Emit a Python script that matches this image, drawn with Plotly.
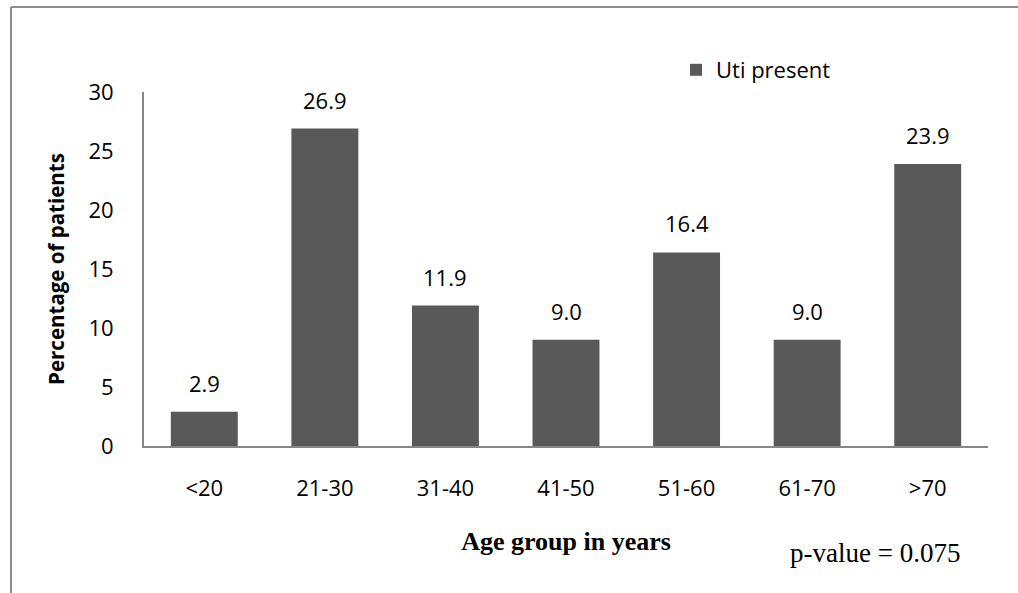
import plotly.graph_objects as go

# Age groups and share of patients with UTI present (%)
age_groups = ["<20", "21-30", "31-40", "41-50", "51-60", "61-70", ">70"]
uti_present = [2.9, 26.9, 11.9, 9.0, 16.4, 9.0, 23.9]
y_ticks = [0, 5, 10, 15, 20, 25, 30]

W, H = 1018, 593
L, R, T, B = 144, 30, 92, 147
pw, ph = W - L - R, H - T - B


def px_x(px):
    return (px - L) / pw


def px_y(py):
    return (H - B - py) / ph


sans = "Open Sans, Noto Sans, sans-serif"
serif = "Liberation Serif, Times New Roman, serif"
bar_color = "#595959"
axis_color = "#868686"

fig = go.Figure()
fig.add_trace(go.Bar(
    x=age_groups,
    y=uti_present,
    name="Uti present",
    marker=dict(color=bar_color, line=dict(width=0)),
    showlegend=True,
))

# value labels above each bar
for g, v in zip(age_groups, uti_present):
    fig.add_annotation(
        x=g, y=v, text=f"{v:.1f}", showarrow=False,
        xref="x", yref="y", yanchor="bottom", yshift=12,
        font=dict(family=sans, size=22, color="#000000"),
    )

fig.add_annotation(
    x=px_x(875), y=px_y(553), xref="paper", yref="paper",
    text="p-value = 0.075", showarrow=False,
    xanchor="center", yanchor="middle",
    font=dict(family=serif, size=27, color="#000000"),
)

# outer frame
fig.add_shape(type="line", xref="paper", yref="paper",
              x0=px_x(11), x1=px_x(1030), y0=px_y(7), y1=px_y(7),
              line=dict(color="#8c8c8c", width=2))
fig.add_shape(type="line", xref="paper", yref="paper",
              x0=px_x(11), x1=px_x(11), y0=px_y(7), y1=px_y(600),
              line=dict(color="#8c8c8c", width=2))

fig.update_layout(
    width=W, height=H,
    margin=dict(l=L, r=R, t=T, b=B, pad=0),
    paper_bgcolor="white", plot_bgcolor="white",
    bargap=0.445,
    font=dict(family=sans, size=22, color="#000000"),
    legend=dict(
        x=px_x(676), y=px_y(49), xanchor="left", yanchor="top",
        font=dict(family=sans, size=22, color="#000000"),
        bgcolor="rgba(0,0,0,0)", itemwidth=30,
    ),
    xaxis=dict(
        showline=True, linecolor=axis_color, linewidth=2,
        ticks="", showgrid=False, zeroline=False,
        ticklabelstandoff=22,
        tickfont=dict(family=sans, size=22),
        title=dict(text="<b>Age group in years</b>", standoff=30,
                   font=dict(family=serif, size=26)),
    ),
    yaxis=dict(
        range=[0, 30], tickvals=y_ticks,
        showline=True, linecolor=axis_color, linewidth=2,
        ticks="", showgrid=False, zeroline=False,
        ticklabelstandoff=24,
        tickfont=dict(family=sans, size=22),
        title=dict(text="<b>Percentage of patients</b>", standoff=18,
                   font=dict(family=sans, size=20.5)),
    ),
)

fig.write_html("out.html")
